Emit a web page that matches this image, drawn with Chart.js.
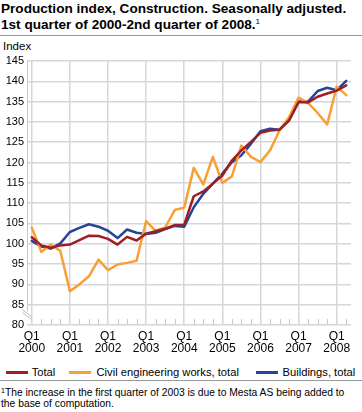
<!DOCTYPE html>
<html><head><meta charset="utf-8">
<script src="https://cdn.jsdelivr.net/npm/chart.js@4/dist/chart.umd.min.js"></script>
<style>
html,body{margin:0;padding:0;background:#fff;width:362px;height:412px;overflow:hidden;font-family:"Liberation Sans",Arial,sans-serif;color:#000;}
#title{position:absolute;left:1px;top:0.5px;font-weight:bold;font-size:13.6px;line-height:16px;white-space:nowrap;}
#title sup{font-size:8px;vertical-align:5px;line-height:0;font-weight:normal;}
#sep1{position:absolute;left:0;top:35px;width:362px;height:1px;background:#9a9a9a;}
#ylab{position:absolute;left:3px;top:40px;font-size:11.5px;}
#wrap{position:absolute;left:0;top:38px;width:362px;height:319px;}
.lg{position:absolute;top:365.6px;font-size:11.2px;line-height:13px;white-space:nowrap;}
.lk{position:absolute;top:371px;width:22px;height:2.6px;}
#sep2{position:absolute;left:0;top:380px;width:362px;height:1px;background:#9a9a9a;}
#note{position:absolute;left:1px;top:388px;font-size:10.3px;line-height:10.5px;white-space:nowrap;}
#note sup{font-size:7px;vertical-align:3px;line-height:0;}
</style></head><body>
<div id="title">Production index, Construction. Seasonally adjusted.<br>1st quarter of 2000-2nd quarter of 2008.<sup>1</sup></div>
<div id="sep1"></div>
<div id="ylab">Index</div>
<div id="wrap"><canvas id="c"></canvas></div>
<div id="legend"></div>
<div id="sep2"></div>
<div id="note"><sup>1</sup>The increase in the first quarter of 2003 is due to Mesta AS being added to<br>the base of computation.</div>
<script>
const categories = ["2000Q1","2000Q2","2000Q3","2000Q4","2001Q1","2001Q2","2001Q3","2001Q4",
  "2002Q1","2002Q2","2002Q3","2002Q4","2003Q1","2003Q2","2003Q3","2003Q4",
  "2004Q1","2004Q2","2004Q3","2004Q4","2005Q1","2005Q2","2005Q3","2005Q4",
  "2006Q1","2006Q2","2006Q3","2006Q4","2007Q1","2007Q2","2007Q3","2007Q4",
  "2008Q1","2008Q2"];
const yearTicks = ["2000","2001","2002","2003","2004","2005","2006","2007","2008"];
const total = [101.6, 99.6, 99.0, 99.6, 99.8, 100.9, 102.0, 101.9, 101.2, 99.8, 101.7, 100.8, 102.5, 103.1, 103.7, 104.6,
  104.7, 111.7, 112.9, 114.8, 116.8, 120.5, 123.0, 125.1, 127.3, 127.9, 128.1, 130.4, 134.9, 134.8, 136.2, 137.0, 137.7, 139.0];
const civil = [104.0, 98.0, 99.8, 98.2, 88.3, 90.0, 92.0, 96.1, 93.5, 94.9, 95.3, 95.8, 105.6, 103.2, 104.0, 108.3,
  108.9, 118.7, 114.6, 121.4, 115.0, 116.6, 124.2, 121.4, 120.1, 123.0, 127.9, 131.2, 136.0, 134.7, 132.2, 129.4, 138.7, 136.6];
const buildings = [100.7, 99.3, 98.8, 100.1, 102.9, 103.9, 104.8, 104.2, 103.2, 101.4, 103.5, 102.7, 102.4, 102.7, 103.6, 104.4,
  104.2, 109.0, 112.3, 114.8, 117.3, 120.1, 121.8, 124.6, 127.7, 128.3, 128.1, 130.4, 135.0, 135.0, 137.6, 138.4, 137.8, 140.1];
const seriesNames = ["Total", "Civil engineering works, total", "Buildings, total"];
const seriesColors = ['#a11d21', '#f7a033', '#27449b'];

// HTML legend (positions of key and text per item)
const legendPos = [[6, 31.7], [69, 96.5], [256, 282.5]];
const lg = document.getElementById('legend');
seriesNames.forEach((n, i) => {
  const k = document.createElement('div');
  k.className = 'lk'; k.style.left = legendPos[i][0] + 'px'; k.style.background = seriesColors[i];
  const t = document.createElement('div');
  t.className = 'lg'; t.style.left = legendPos[i][1] + 'px'; t.textContent = n;
  lg.appendChild(k); lg.appendChild(t);
});

const gridColor = '#d5d6dc';
const decor = {
  id: 'decor',
  beforeDatasetsDraw(chart) {
    const {ctx, chartArea, scales} = chart;
    const x = scales.x, y = scales.y;
    ctx.save();
    ctx.strokeStyle = '#c8c9cf';
    ctx.lineWidth = 1;
    for (let i = 0; i < categories.length; i++) {
      if (i % 4 === 0) continue;
      const px = Math.round(x.getPixelForValue(i)) + 0.5;
      ctx.beginPath();
      ctx.moveTo(px, chartArea.bottom - 6);
      ctx.lineTo(px, chartArea.bottom);
      ctx.stroke();
    }
    const lx = Math.round(chartArea.left) + 0.5;
    const yb = y.getPixelForValue(83.3);
    ctx.beginPath();
    ctx.moveTo(lx, chartArea.top);
    ctx.lineTo(lx, yb);
    ctx.stroke();
    ctx.strokeStyle = '#b8b9bf';
    for (const off of [0, 3]) {
      ctx.beginPath();
      ctx.moveTo(lx - 5, yb - 2 + off);
      ctx.lineTo(lx + 4, yb + 5 + off);
      ctx.stroke();
    }
    ctx.restore();
  }
};

new Chart(document.getElementById('c'), {
  type: 'line',
  data: {
    labels: categories,
    datasets: [
      {label: seriesNames[0], data: total, borderColor: seriesColors[0], backgroundColor: seriesColors[0]},
      {label: seriesNames[1], data: civil, borderColor: seriesColors[1], backgroundColor: seriesColors[1]},
      {label: seriesNames[2], data: buildings, borderColor: seriesColors[2], backgroundColor: seriesColors[2]}
    ]
  },
  options: {
    responsive: true,
    maintainAspectRatio: false,
    animation: false,
    layout: {padding: {top: 23, right: 11, left: 0, bottom: 0}},
    elements: {
      line: {borderWidth: 2.5, tension: 0, borderJoinStyle: 'round', borderCapStyle: 'round', fill: false},
      point: {radius: 0, hoverRadius: 0}
    },
    plugins: {
      legend: {display: false},
      tooltip: {enabled: false}
    },
    scales: {
      x: {
        offset: true,
        grid: {color: c => (c.index % 4 === 0 ? gridColor : 'rgba(0,0,0,0)'), lineWidth: 1.5, drawTicks: false},
        border: {display: false},
        ticks: {
          autoSkip: false, maxRotation: 0, padding: 6, color: '#000',
          font: {family: '"Liberation Sans", Arial, sans-serif', size: 12, lineHeight: 0.97},
          callback: (v, i) => (i % 4 === 0 ? ['Q1', yearTicks[i / 4]] : '')
        },
        afterFit: s => { s.height = 32; }
      },
      y: {
        min: 80, max: 145,
        grid: {color: gridColor, lineWidth: 1.5, drawTicks: false},
        border: {display: false},
        ticks: {stepSize: 5, padding: 3, color: '#000',
          font: {family: '"Liberation Sans", Arial, sans-serif', size: 11}},
        afterFit: s => { s.width = 27; }
      }
    }
  },
  plugins: [decor]
});
</script>
</body></html>
